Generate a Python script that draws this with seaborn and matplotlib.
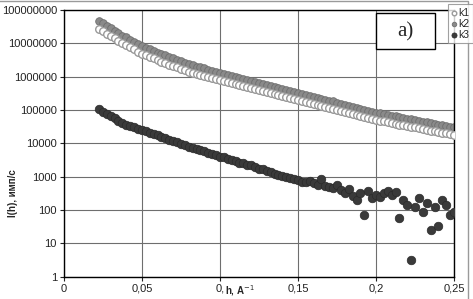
import numpy as np
import pandas as pd
import seaborn as sns
import matplotlib.pyplot as plt
from matplotlib.patches import Rectangle
from matplotlib.ticker import FixedLocator, NullLocator

# scattering vector h, A^-1 (step 0.0025)
h = np.round(np.arange(0.0225, 0.25001, 0.0025), 4)

k1 = [2.6e7, 2.3e7, 1.95e7, 1.65e7, 1.4e7, 1.2e7, 1.0e7, 8.8e6, 7.5e6, 6.5e6,
      5.6e6, 4.9e6, 4.4e6, 3.9e6, 3.5e6, 3.1e6, 2.8e6, 2.55e6, 2.3e6, 2.1e6,
      1.9e6, 1.7e6, 1.55e6, 1.42e6, 1.3e6, 1.2e6, 1.12e6, 1.05e6, 9.6e5, 9.0e5,
      8.4e5, 7.8e5, 7.3e5, 6.8e5, 6.4e5, 6.0e5, 5.6e5, 5.2e5, 4.9e5, 4.6e5,
      4.3e5, 4.0e5, 3.7e5, 3.5e5, 3.25e5, 3.0e5, 2.8e5, 2.65e5, 2.5e5, 2.3e5,
      2.1e5, 2.0e5, 1.85e5, 1.75e5, 1.62e5, 1.5e5, 1.4e5, 1.32e5, 1.2e5, 1.14e5,
      1.08e5, 1.0e5, 9.3e4, 8.7e4, 8.1e4, 7.6e4, 7.0e4, 6.6e4, 6.1e4, 5.7e4,
      5.3e4, 5.0e4, 4.8e4, 4.6e4, 4.3e4, 4.1e4, 3.9e4, 3.6e4, 3.5e4, 3.3e4,
      3.1e4, 3.0e4, 2.8e4, 2.7e4, 2.6e4, 2.4e4, 2.3e4, 2.2e4, 2.1e4, 2.0e4,
      1.9e4, 1.8e4]

k2 = [4.6e7, 4.0e7, 3.3e7, 2.8e7, 2.4e7, 2.0e7, 1.7e7, 1.5e7, 1.26e7, 1.1e7,
      9.5e6, 8.3e6, 7.4e6, 6.6e6, 5.9e6, 5.2e6, 4.7e6, 4.3e6, 3.8e6, 3.5e6,
      3.2e6, 2.9e6, 2.6e6, 2.4e6, 2.2e6, 2.0e6, 1.9e6, 1.8e6, 1.6e6, 1.5e6,
      1.4e6, 1.3e6, 1.23e6, 1.15e6, 1.07e6, 1.0e6, 9.3e5, 8.7e5, 8.1e5, 7.6e5,
      7.1e5, 6.6e5, 6.2e5, 5.8e5, 5.4e5, 5.0e5, 4.7e5, 4.4e5, 4.1e5, 3.8e5,
      3.5e5, 3.3e5, 3.1e5, 2.9e5, 2.7e5, 2.5e5, 2.3e5, 2.2e5, 2.0e5, 1.9e5,
      1.8e5, 1.66e5, 1.55e5, 1.45e5, 1.35e5, 1.26e5, 1.17e5, 1.1e5, 1.02e5, 9.5e4,
      8.9e4, 8.3e4, 7.9e4, 7.6e4, 7.1e4, 6.8e4, 6.5e4, 6.0e4, 5.8e4, 5.5e4,
      5.2e4, 5.0e4, 4.7e4, 4.5e4, 4.3e4, 4.0e4, 3.8e4, 3.6e4, 3.5e4, 3.3e4,
      3.1e4, 3.0e4]

k3 = [1.05e5, 8.9e4, 7.6e4, 6.6e4, 5.8e4, 4.8e4, 4.2e4, 3.6e4, 3.3e4, 3.0e4,
      2.75e4, 2.5e4, 2.3e4, 2.1e4, 1.9e4, 1.74e4, 1.6e4, 1.4e4, 1.3e4, 1.15e4,
      1.07e4, 9.5e3, 8.7e3, 7.9e3, 7.4e3, 6.6e3, 6.3e3, 5.8e3, 5.2e3, 4.8e3,
      4.6e3, 4.0e3, 3.8e3, 3.5e3, 3.2e3, 3.0e3, 2.6e3, 2.5e3, 2.3e3, 2.2e3,
      1.9e3, 1.74e3, 1.66e3, 1.45e3, 1.38e3, 1.2e3, 1.15e3, 1.05e3, 1.0e3, 910,
      830, 790, 720, 690, 760, 630, 575, 830, 525, 500,
      460, 550, 400, 330, 440, 260, 200, 320, 72, 380,
      230, 290, 250, 330, 380, 275, 360, 60, 200, 145,
      3.3, 125, 230, 90, 160, 26, 125, 34, 200, 140,
      72, 90]

y_ticks = [1, 10, 100, 1000, 10000, 100000, 1000000, 10000000, 100000000]
x_ticks = [0, 0.05, 0.1, 0.15, 0.2, 0.25]
# the "1" of 0,1 is hidden under the axis title in the original
x_tick_labels = ['0', '0,05', '0,', '0,15', '0,2', '0,25']

df = pd.DataFrame({'h': h, 'k1': k1, 'k2': k2, 'k3': k3})

sns.set_style('white')
plt.rcParams['font.family'] = ['Liberation Sans', 'DejaVu Sans']

fig = plt.figure(figsize=(4.73, 2.99), dpi=100)
ax = fig.add_axes([0.135, 0.074, 0.825, 0.893])

sns.scatterplot(data=df, x='h', y='k1', ax=ax, marker='o', s=30,
                facecolor='white', edgecolor='#9a9a9a', linewidth=1.0, label='k1', zorder=3)
sns.scatterplot(data=df, x='h', y='k2', ax=ax, marker='o', s=30,
                color='#8a8a8a', edgecolor='#6e6e6e', linewidth=0.6, label='k2', zorder=2)
sns.scatterplot(data=df, x='h', y='k3', ax=ax, marker='o', s=38,
                color='#3a3a3a', edgecolor='#2a2a2a', linewidth=0.5, label='k3', zorder=3)

ax.set_yscale('log')
ax.set_ylim(1, 1e8)
ax.set_xlim(0, 0.25)
ax.yaxis.set_major_locator(FixedLocator(y_ticks))
ax.yaxis.set_minor_locator(NullLocator())
ax.set_yticklabels([str(v) for v in y_ticks])
ax.set_xticks(x_ticks)
ax.set_xticklabels(x_tick_labels)
ax.tick_params(axis='both', labelsize=8, colors='#222222', length=3, width=0.8,
               direction='out', left=True, bottom=True, pad=2)
ax.grid(True, color='#6e6e6e', linewidth=0.8)
ax.set_axisbelow(True)
for s in ax.spines.values():
    s.set_color('black')
    s.set_linewidth(1.0)
ax.set_xlabel('')
ax.set_ylabel('')

# axis titles
fig.text(0.027, 0.355, 'I(h), имп/с', rotation=90, fontsize=7, fontweight='bold',
         ha='center', va='center')
fig.text(0.476, 0.028, 'h, A$^{-1}$', fontsize=7, fontweight='bold', ha='left', va='center')

# "a)" box
fig.patches.append(Rectangle((0.795, 0.836), 0.125, 0.12, transform=fig.transFigure,
                             facecolor='white', edgecolor='black', linewidth=1.0, zorder=5))
fig.text(0.857, 0.893, 'a)', fontsize=15, family='Liberation Serif',
         ha='center', va='center', zorder=6)

# chart frame
fig.patches.append(Rectangle((-0.01, -0.01), 0.999, 1.006, transform=fig.transFigure,
                             facecolor='none', edgecolor='#9a9a9a', linewidth=1.0, zorder=-1))

handles, labels = ax.get_legend_handles_labels()
if ax.legend_:
    ax.legend_.remove()
leg = fig.legend(handles, labels, loc='upper right', bbox_to_anchor=(0.999, 0.985),
                 fontsize=7.5, frameon=True, fancybox=False, borderpad=0.3,
                 handlelength=0.5, handletextpad=0.2, labelspacing=0.12, markerscale=0.6,
                 borderaxespad=0)
leg.get_frame().set_edgecolor('#8a8a8a')
leg.get_frame().set_linewidth(0.8)
leg.set_zorder(10)

fig.savefig('out.png', dpi=100)
